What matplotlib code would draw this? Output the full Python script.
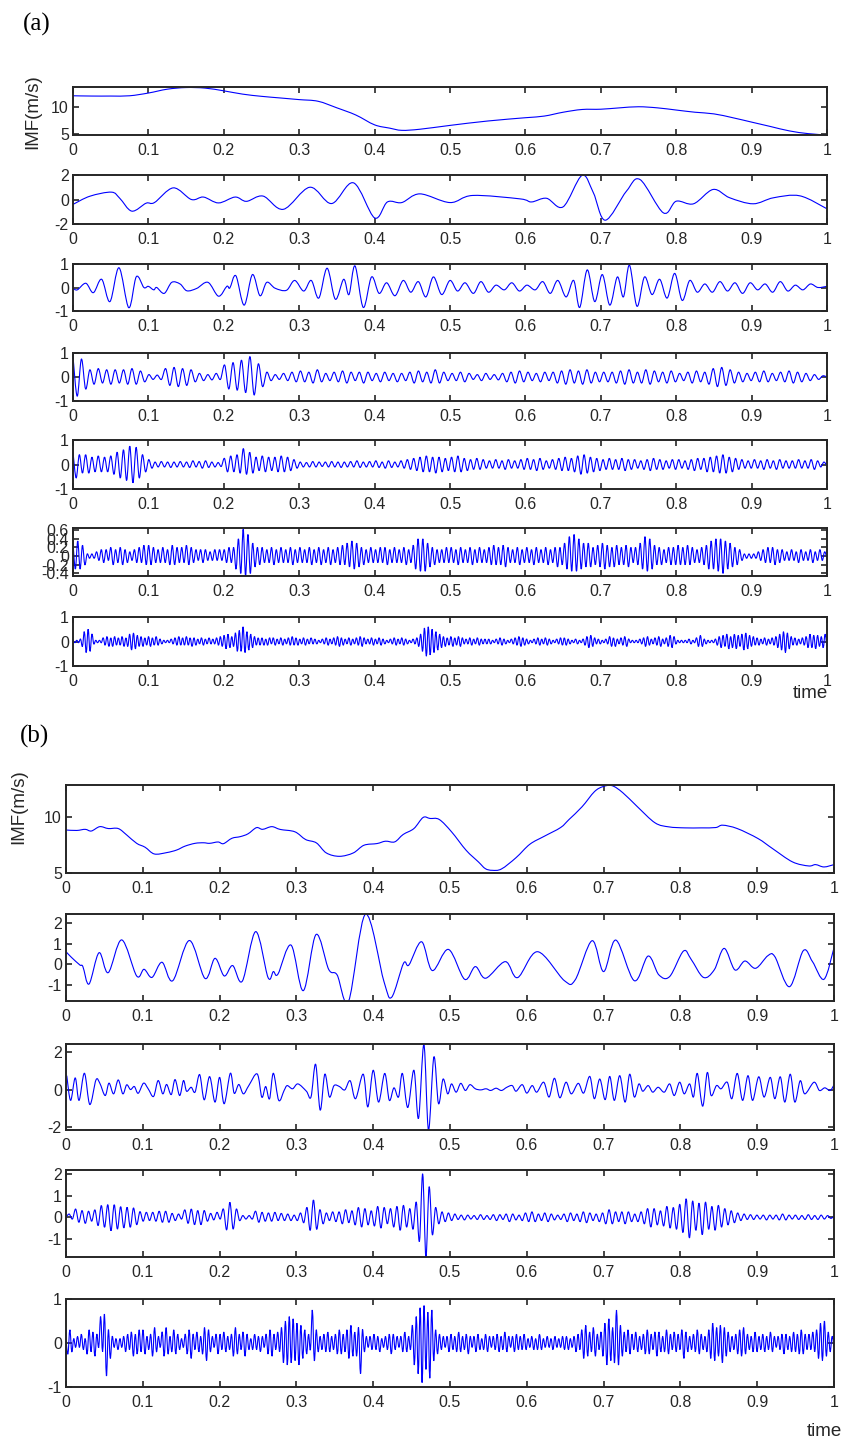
import numpy as np
import matplotlib
matplotlib.use("Agg")
import matplotlib.pyplot as plt
from matplotlib.path import Path
from matplotlib.patches import PathPatch

plt.rcParams['font.family'] = ['Liberation Sans', 'DejaVu Sans']

# ---------------- data (a) ----------------
A1_T = [0, 0.025, 0.05, 0.075, 0.1, 0.125, 0.15, 0.175, 0.2, 0.225, 0.25, 0.275, 0.3, 0.325, 0.35,
        0.375, 0.4, 0.42, 0.436, 0.46, 0.5, 0.55, 0.6, 0.625, 0.65, 0.675, 0.7, 0.725, 0.75, 0.775,
        0.8, 0.825, 0.85, 0.875, 0.9, 0.925, 0.95, 0.975, 1.0]
A1_V = [12.0, 11.95, 11.95, 12.0, 12.5, 13.2, 13.5, 13.4, 12.9, 12.3, 11.9, 11.6, 11.3, 11.0, 9.8,
        8.5, 6.7, 6.1, 5.7, 5.9, 6.6, 7.4, 8.0, 8.3, 9.0, 9.5, 9.55, 9.8, 10.0, 9.8,
        9.4, 9.0, 8.7, 8.0, 7.2, 6.4, 5.6, 5.1, 4.85]

A2_T = [0, 0.0225, 0.051, 0.062, 0.078, 0.097, 0.108, 0.133, 0.157, 0.173, 0.193, 0.215, 0.23, 0.252,
        0.279, 0.314, 0.343, 0.372, 0.4, 0.417, 0.436, 0.46, 0.5, 0.53, 0.593, 0.608, 0.628, 0.65,
        0.675, 0.69, 0.706, 0.734, 0.752, 0.783, 0.8, 0.823, 0.849, 0.871, 0.902, 0.929, 0.964, 1.0]
A2_V = [-0.4, 0.27, 0.6, 0.1, -0.95, -0.3, -0.25, 0.95, 0.0, 0.2, -0.28, 0.2, -0.15, 0.28,
        -0.8, 1.0, -0.33, 1.36, -1.5, -0.2, -0.25, 0.46, -0.25, 0.33, 0.05, -0.2, 0.1, -0.6,
        1.96, 0.57, -1.69, 0.68, 1.63, -1.09, -0.14, -0.35, 0.82, 0.14, -0.35, 0.14, 0.3, -0.76]

A3_T = [0, 0.0057, 0.017, 0.027, 0.038, 0.049, 0.061, 0.074, 0.084, 0.094, 0.0999, 0.107, 0.111,
        0.121, 0.131, 0.142, 0.151, 0.164, 0.179, 0.193, 0.204, 0.208, 0.216, 0.227, 0.238, 0.248,
        0.257, 0.268, 0.283, 0.294,
        0.306, 0.316, 0.326, 0.337, 0.348, 0.359, 0.366, 0.374, 0.385, 0.396, 0.406, 0.416, 0.427,
        0.438, 0.448, 0.458, 0.468, 0.478, 0.489, 0.5, 0.51, 0.52, 0.531, 0.541, 0.551, 0.561,
        0.572, 0.582, 0.592, 0.602, 0.613, 0.623, 0.633, 0.643, 0.654, 0.664, 0.672, 0.682,
        0.692, 0.702, 0.712, 0.722, 0.73, 0.738, 0.748, 0.758, 0.768, 0.778, 0.788, 0.798,
        0.808, 0.818, 0.828, 0.838, 0.848, 0.858, 0.868, 0.878, 0.888, 0.898, 0.908, 0.918,
        0.928, 0.938, 0.948, 0.958, 0.968, 0.978, 0.988, 1.0]
A3_V = [-0.03, -0.1, 0.18, -0.22, 0.35, -0.6, 0.84, -0.86, 0.46, 0.0, 0.05, -0.1, 0.0,
        -0.25, 0.22, 0.15, -0.14, -0.04, 0.22, -0.37, 0.05, -0.02, 0.5, -0.75, 0.55, -0.35,
        0.22, -0.03, -0.12, 0.3,
        -0.15, 0.3, -0.45, 0.82, -0.5, 0.35, -0.3, 0.92, -0.85, 0.45, -0.25, 0.2, -0.35,
        0.3, -0.2, 0.25, -0.4, 0.45, -0.3, 0.3, -0.15, 0.2, -0.25, 0.25, -0.2, 0.1,
        -0.1, 0.2, -0.15, 0.1, -0.1, 0.25, -0.25, 0.3, -0.4, 0.3, -0.85, 0.75,
        -0.6, 0.55, -0.75, 0.45, -0.4, 0.95, -0.8, 0.45, -0.3, 0.35, -0.45, 0.6,
        -0.55, 0.3, -0.2, 0.15, -0.2, 0.25, -0.15, 0.2, -0.25, 0.2, -0.1, 0.15,
        -0.2, 0.25, -0.15, 0.1, -0.1, 0.15, 0.0, 0.05]

# extrema (hundredths), evenly spread over 0..1
A4_V = [85, -80, 75, -50, 30, -30, 35, -25, 30,
        -30, 30, -25, 30, -30, 35, -30, 25, -20,
        10, -10, 8, -10, 35, -35, 40, -40, 35,
        -35, 30, -20, 15, -15, 10, -12, 15, -10,
        50, -50, 60, -55, 70, -65, 85, -75, 55,
        -40, 20, -15, 10, -10, 15, -15, 20, -20,
        25, -20, 20, -25, 30, -20, 15, -15, 20,
        -20, 25, -25, 20, -15, 20, -25, 20, -15,
        15, -20, 20, -15, 15, -20, 15, -15, 20,
        -25, 25, -20, 20, -25, 30, -25, 20, -15,
        15, -15, 20, -20, 15, -10, 10, -15, 15,
        -10, 10, -12, 15, -20, 20, -25, 25, -20,
        20, -15, 15, -20, 20, -15, 20, -25, 25,
        -30, 30, -25, 25, -30, 30, -25, 20, -20,
        20, -20, 20, -25, 25, -30, 30, -25, 20,
        -25, 30, -30, 25, -20, 20, -25, 25, -20,
        15, -15, 20, -25, 25, -20, 20, -30, 35,
        -40, 40, -35, 30, -25, 20, -20, 15, -15,
        20, -20, 25, -20, 15, -15, 20, -20, 25,
        -25, 20, -20, 15, -15, 10, -10, 5, 0]

A5_V = [50, -55, 40, -35, 40, -35, 30, -30, 35, -30, 30, -30,
        35, -40, 50, -55, 60, -65, 75, -75, 70, -55, 40, -30,
        20, -15, 10, -10, 12, -10, 10, -12, 10, -10, 12, -10,
        10, -12, 15, -10, 12, -15, 15, -12, 10, -10, 8, -8,
        25, -30, 35, -30, 40, -35, 65, -40, 50, -35, 30, -25,
        35, -30, 30, -25, 30, -30, 35, -30, 30, -25, 20, -15,
        10, -10, 8, -10, 12, -10, 10, -8, 10, -10, 12, -10,
        10, -12, 10, -10, 12, -10, 15, -12, 10, -10, 12, -10,
        15, -12, 10, -15, 15, -12, 10, -10, 15, -15, 20, -20,
        25, -25, 30, -30, 35, -30, 30, -35, 30, -30, 25, -25,
        30, -30, 35, -30, 25, -25, 20, -20, 25, -20, 20, -15,
        15, -15, 20, -15, 15, -20, 20, -15, 15, -15, 20, -20,
        25, -20, 20, -25, 25, -20, 15, -15, 20, -20, 25, -25,
        30, -25, 25, -30, 35, -40, 40, -35, 30, -30, 25, -25,
        20, -20, 25, -20, 20, -20, 25, -25, 20, -20, 20, -15,
        15, -20, 20, -25, 25, -20, 20, -20, 15, -15, 20, -20,
        20, -15, 15, -20, 20, -25, 25, -20, 25, -30, 30, -30,
        35, -35, 40, -35, 30, -30, 25, -20, 20, -15, 15, -15,
        20, -15, 15, -20, 20, -15, 15, -20, 20, -15, 15, -15,
        15, -15, 20, -15, 15, -15, 20, -20, 15, -10, 10, -5]

A6_V = [30, -30, 35, -30, 25, -20, 5, -5, 5, -5, 10, -10, 15, -15, 15, -10,
        20, -20, 15, -15, 20, -20, 15, -15, 10, -10, 15, -15, 20, -15, 25, -20,
        25, -20, 20, -15, 15, -15, 20, -15, 15, -20, 25, -20, 20, -15, 20, -15,
        25, -20, 20, -15, 15, -10, 15, -15, 15, -10, 10, -10, 15, -10, 15, -10,
        15, -15, 20, -15, 20, -30, 40, -40, 62, -45, 50, -40, 30, -25, 20, -20,
        20, -15, 15, -15, 20, -20, 15, -15, 20, -15, 15, -15, 20, -20, 15, -15,
        20, -15, 15, -15, 20, -20, 15, -15, 20, -20, 15, -15, 20, -20, 15, -15,
        20, -20, 25, -20, 30, -25, 35, -30, 30, -25, 20, -20, 15, -15, 20, -15,
        15, -15, 20, -15, 20, -20, 15, -15, 20, -15, 15, -15, 20, -20, 15, -15,
        25, -30, 40, -35, 40, -35, 30, -25, 20, -20, 15, -15, 15, -15, 20, -15,
        20, -15, 15, -20, 20, -15, 15, -15, 20, -20, 15, -15, 20, -15, 15, -15,
        20, -20, 25, -20, 20, -20, 25, -25, 20, -15, 15, -15, 20, -20, 15, -15,
        20, -15, 15, -20, 20, -15, 15, -15, 20, -20, 15, -15, 20, -25, 20, -20,
        30, -30, 45, -35, 50, -35, 40, -30, 30, -25, 30, -25, 20, -20, 25, -25,
        30, -30, 25, -25, 20, -25, 25, -20, 20, -20, 25, -25, 20, -15, 20, -20,
        30, -30, 45, -35, 40, -30, 25, -20, 20, -20, 15, -15, 20, -20, 20, -20,
        25, -20, 20, -20, 25, -20, 20, -15, 15, -15, 20, -20, 25, -30, 35, -30,
        40, -35, 40, -40, 35, -30, 30, -25, 20, -20, 15, -10, 5, -5, 5, -5,
        5, -5, 10, -10, 15, -15, 20, -15, 20, -20, 15, -15, 15, -10, 10, -10,
        15, -10, 10, -15, 15, -10, 10, -10, 15, -15, 10, -10, 15, -10, 10, -5]

A7_V = [5, -5, 5, -5, 10, -20, 40, -45, 50, -40, 30, -10, 5, -5, 5, -5, 15, -15, 20, -20,
        15, -20, 20, -15, 15, -15, 20, -20, 15, -20, 30, -35, 35, -30, 25, -20, 20, -20, 15, -15,
        20, -20, 15, -15, 20, -15, 10, -10, 5, -5, 5, -5, 10, -10, 15, -15, 20, -15, 15, -15,
        20, -15, 15, -20, 15, -15, 10, -10, 15, -15, 10, -10, 15, -10, 10, -10, 15, -15, 20, -20,
        25, -30, 30, -25, 20, -20, 35, -40, 45, -40, 60, -45, 40, -35, 30, -25, 20, -15, 15, -15,
        15, -15, 10, -15, 15, -10, 15, -15, 10, -10, 15, -15, 10, -10, 15, -15, 20, -15, 15, -15,
        10, -10, 15, -15, 10, -10, 15, -10, 10, -10, 5, -5, 10, -10, 15, -15, 10, -10, 15, -15,
        20, -20, 15, -15, 10, -10, 15, -15, 10, -10, 15, -15, 20, -20, 15, -10, 10, -10, 15, -15,
        10, -10, 15, -15, 10, -10, 5, -5, 10, -10, 15, -15, 10, -10, 15, -15, 10, -10, 5, -5,
        10, -10, 15, -20, 30, -40, 55, -60, 60, -55, 50, -45, 40, -35, 30, -25, 20, -20, 15, -15,
        20, -20, 15, -15, 20, -20, 15, -10, 10, -10, 15, -15, 10, -10, 15, -15, 10, -10, 10, -10,
        10, -10, 5, -5, 10, -10, 15, -15, 10, -10, 5, -5, 10, -10, 15, -15, 20, -20, 15, -15,
        10, -10, 5, -5, 10, -10, 15, -15, 10, -10, 15, -15, 10, -10, 5, -5, 10, -10, 15, -15,
        15, -15, 10, -10, 5, -5, 10, -10, 5, -5, 10, -15, 20, -25, 25, -20, 15, -10, 10, -10,
        5, -5, 10, -10, 20, -20, 15, -20, 10, -10, 15, -15, 20, -20, 10, -5, 5, -5, 5, -5,
        10, -10, 15, -20, 20, -15, 10, -10, 15, -15, 20, -20, 10, -10, 15, -20, 25, -25, 20, -10,
        5, -5, 5, -5, 5, -5, 10, -10, 5, -5, 15, -20, 25, -20, 10, -10, 5, -5, 5, -5,
        10, -15, 20, -25, 25, -20, 30, -30, 20, -25, 30, -30, 25, -20, 30, -35, 35, -30, 25, -20,
        20, -15, 15, -15, 10, -10, 15, -15, 10, -10, 15, -15, 20, -25, 30, -35, 40, -45, 35, -30,
        20, -15, 15, -15, 10, -10, 15, -15, 20, -25, 30, -25, 25, -30, 25, -20, 20, -25, 30, -25]

# ---------------- data (b) ----------------
B1_T = [0, 0.014, 0.025, 0.033, 0.044, 0.055, 0.068, 0.079, 0.092, 0.103, 0.115, 0.131, 0.144, 0.155,
        0.168, 0.179, 0.187, 0.198, 0.205, 0.216, 0.227, 0.237, 0.248, 0.256, 0.268, 0.279,
        0.298, 0.312, 0.326, 0.339, 0.356, 0.374, 0.388, 0.405, 0.416, 0.428, 0.439, 0.453, 0.465,
        0.474, 0.486, 0.502, 0.521, 0.537, 0.546, 0.555, 0.567, 0.586, 0.604, 0.623, 0.644, 0.655,
        0.672, 0.688, 0.699, 0.711, 0.725, 0.744, 0.767, 0.785, 0.806, 0.827, 0.846, 0.855, 0.874,
        0.901, 0.92, 0.946, 0.967, 0.976, 0.987, 1.0]
B1_V = [8.84, 8.8, 8.9, 8.75, 9.14, 8.97, 8.97, 8.4, 7.65, 7.3, 6.7, 6.82, 7.05, 7.4,
        7.65, 7.7, 7.65, 7.77, 7.62, 8.1, 8.25, 8.5, 9.05, 8.9, 9.14, 8.89,
        8.68, 7.99, 7.69, 6.79, 6.49, 6.79, 7.48, 7.63, 7.84, 7.78, 8.44, 8.97, 9.96,
        9.87, 9.78, 8.68, 7.03, 5.99, 5.39, 5.24, 5.36, 6.37, 7.57, 8.29, 9.06, 9.78,
        10.92, 12.26, 12.71, 12.8, 12.17, 10.92, 9.48, 9.12, 9.03, 9.03, 9.06, 9.27, 8.97,
        8.08, 7.18, 5.99, 5.63, 5.75, 5.54, 5.75]

B2_T = [0, 0.007, 0.018, 0.022, 0.030, 0.043, 0.055, 0.0725, 0.092, 0.1016, 0.112, 0.125, 0.139,
        0.1606, 0.181, 0.194, 0.206, 0.217, 0.2296, 0.247, 0.263, 0.27, 0.276,
        0.293, 0.309, 0.3256, 0.342, 0.353, 0.368, 0.39, 0.414, 0.424, 0.4395, 0.4465, 0.463,
        0.477, 0.498, 0.519, 0.533, 0.5465, 0.572, 0.588, 0.614, 0.649, 0.663, 0.685, 0.7,
        0.716, 0.74, 0.758, 0.772, 0.786, 0.804, 0.814, 0.83, 0.844, 0.857, 0.871, 0.884,
        0.898, 0.914, 0.923, 0.942, 0.96, 0.972, 0.987, 1.0]
B2_V = [0.61, 0.34, -0.03, -0.11, -0.95, 0.56, -0.4, 1.18, -0.56, -0.24, -0.63, 0.1, -0.79,
        1.15, -0.68, 0.29, -0.56, -0.06, -0.81, 1.58, -0.63, -0.35, -0.47,
        0.93, -1.27, 1.44, -0.24, -0.51, -1.77, 2.42, -0.83, -1.59, 0.05, -0.03, 1.09,
        -0.3, 0.72, -0.72, -0.11, -0.67, 0.13, -0.64, 0.61, -0.79, -0.75, 1.14, -0.35,
        1.17, -0.79, 0.4, -0.51, -0.59, 0.64, 0.24, -0.63, -0.27, 0.77, -0.27, 0.16,
        -0.19, 0.42, 0.37, -1.08, 0.66, 0.13, -0.72, 0.8]

B3_T = [0.001, 0.006, 0.012, 0.017, 0.024, 0.031, 0.039, 0.044, 0.051, 0.056, 0.062, 0.068, 0.074,
        0.079, 0.084, 0.089, 0.094, 0.101, 0.107, 0.114, 0.12, 0.126, 0.131, 0.137, 0.142, 0.148,
        0.153, 0.157, 0.163, 0.168, 0.174, 0.18, 0.187, 0.194, 0.2, 0.206, 0.214, 0.219, 0.225,
        0.231, 0.238, 0.249, 0.255, 0.26, 0.265, 0.27, 0.277,
        0.284, 0.288, 0.295, 0.302, 0.313, 0.319, 0.325, 0.331, 0.337, 0.343,
        0.349, 0.356, 0.363, 0.37, 0.377, 0.387, 0.393, 0.4, 0.407, 0.415,
        0.421, 0.427, 0.433, 0.438, 0.445, 0.453, 0.459, 0.466, 0.472, 0.479,
        0.485, 0.491, 0.497, 0.502, 0.508, 0.514, 0.52, 0.526, 0.533, 0.54,
        0.547, 0.553, 0.56, 0.567, 0.574, 0.581, 0.586, 0.594, 0.6, 0.607,
        0.613, 0.622, 0.629, 0.636, 0.643, 0.651, 0.658, 0.667, 0.674, 0.682,
        0.688, 0.695, 0.702, 0.708, 0.714, 0.721, 0.728, 0.734, 0.74, 0.746,
        0.751, 0.758, 0.764, 0.771, 0.779, 0.786, 0.792, 0.799, 0.805, 0.812,
        0.817, 0.822, 0.829, 0.835, 0.84, 0.847, 0.853, 0.861, 0.867, 0.874,
        0.881, 0.888, 0.894, 0.902, 0.909, 0.917, 0.923, 0.93, 0.936, 0.943,
        0.949, 0.956, 0.962, 0.974, 0.981, 0.988, 0.995, 1.0]
B3_V = [0.74, -0.58, 0.62, -0.58, 0.87, -0.8, 0.51, 0.34, -0.32, 0.34, -0.23, 0.51, -0.23,
        0.25, 0.0, 0.16, -0.2, 0.34, 0.04, -0.37, 0.48, -0.23, 0.27, -0.27, 0.53, -0.32,
        0.48, -0.09, 0.12, -0.14, 0.8, -0.55, 0.69, -0.67, 0.65, -0.76, 0.87, -0.2, 0.27,
        -0.23, 0.21, 0.83, -0.41, 0.16, -0.5, 0.87, -0.58,
        -0.05, 0.21, 0.04, 0.3, -0.09, -0.4, 1.35, -1.1, 0.82, -0.4,
        0.21, 0.16, -0.02, 0.47, -0.49, 0.82, -0.93, 1.03, -0.67, 0.86,
        -0.58, 0.09, -0.4, 0.86, -0.96, 1.03, -1.54, 2.4, -2.16, 1.74,
        -0.75, 0.56, -0.23, 0.3, -0.14, 0.33, -0.05, 0.26, 0.04, -0.02,
        0.04, -0.05, 0.07, -0.05, 0.12, 0.21, -0.09, 0.26, -0.19, 0.21,
        -0.14, 0.39, -0.4, 0.6, -0.44, 0.39, -0.23, 0.33, -0.19, 0.7,
        -0.49, 0.56, -0.54, 0.7, -0.58, 0.74, -0.67, 0.82, -0.4, 0.3,
        -0.09, 0.21, -0.14, 0.12, -0.14, 0.3, -0.32, 0.39, -0.23, 0.3,
        -0.4, 0.86, -0.89, 0.91, -0.32, 0.21, 0.04, 0.39, -0.49, 0.86,
        -0.58, 0.74, -0.58, 0.68, -0.4, 0.65, -0.49, 0.68, -0.67, 0.82,
        -0.67, 0.47, -0.23, 0.39, -0.05, 0.09, -0.05, 0.25]

B4_V = [0, 15, -8, 38, -23, 31, -28, 28, -18, 34, -38, 54, -46, 58, -62, 58, -54, 49, -49, 46,
        -46, 43, -34, 26, -18, 23, -15, 23, -18, 28, -23, 28, -23, 18, -15, 15, -8, 34, -28, 38,
        -34, 31, -34, 31, -18, 18, -12, 23, -8, 38, -58, 69, -54, 38, -15, 8, -8, 8, -8, 28,
        -23, 23, -18, 20, -18, 23, -15, 18, -15, 15, -15, 10,
        -15, 20, -25, 45, -60, 80, -55, 35, -30, 20, -15, 25,
        -20, 25, -30, 35, -25, 30, -35, 45, -45, 40, -35, 30,
        -40, 50, -50, 45, -30, 40, -45, 50, -60, 55, -45, 40,
        -55, 70, -110, 200, -183, 140, -80, 45, -30, 25, -20, 20,
        -15, 15, -10, 10, -12, 10, -8, 8, -10, 12, -10, 8,
        -10, 12, -15, 12, -10, 15, -20, 15, -12, 10, -15, 20,
        -20, 25, -20, 15, -15, 20, -20, 15, -12, 10, -10, 15,
        -20, 20, -15, 15, -20, 25, -25, 20, -15, 15, -20, 20,
        -30, 35, -30, 25, -20, 25, -30, 25, -20, 15, -20, 25,
        -30, 40, -45, 40, -35, 30, -40, 50, -50, 45, -55, 60,
        -70, 85, -95, 75, -60, 65, -80, 70, -55, 50, -60, 55,
        -45, 40, -35, 30, -25, 20, -15, 15, -10, 12, -10, 10,
        -8, 10, -12, 10, -8, 10, -12, 15, -12, 10, -8, 10,
        -10, 8, -10, 12, -10, 8, -10, 10, -8, 8, -5, 5]

B5_V = [5, -25, 30, -20, 10, -10, 15, -10, 20, -15, 10, -25, 30, -20, 25, -30, 20, -10, 60, -20,
        65, -75, 30, -35, 15, -10, 10, -15, 10, -10, 15, -20, 20, -15, 25, -30, 20, -25, 30, -20,
        30, -25, 15, -15, 20, -30, 35, -20, 15, -10, 25, -30, 35, -25, 15, -20, 30, -25, 20, -15,
        10, -10, 20, -25, 30, -35, 20, -15, 25, -20, 15, -25, 35, -40, 30, -20, 15, -10, 20, -25,
        20, -15, 25, -20, 15, -15, 20, -30, 35, -25, 20, -15, 25, -30, 20, -15, 10, -15, 20, -15,
        15, -20, 15, -10, 20, -25, 30, -30, 20, -15, 25, -20, 35, -45, 50, -50, 60, -45, 55, -40,
        45, -50, 40, -35, 30, -25, 20, -15, 75, -40, 30, -20, 15, -15, 20, -20, 25, -20, 15, -15,
        20, -25, 30, -25, 20, -20, 30, -35, 40, -30, 25, -30, 35, -70, 30, -20, 15, -10, 15, -15,
        20, -15, 15, -20, 10, -10, 15, -15, 20, -25, 20, -15, 15, -10, 15, -20, 25, -20, 15, -15,
        40, -50, 60, -70, 80, -90, 85, -60, 70, -80, 75, -40, 30, -25, 20, -15, 15, -10, 15, -20,
        20, -15, 15, -20, 25, -20, 15, -15, 20, -25, 15, -10, 15, -20, 20, -15, 10, -15, 20, -20,
        15, -10, 15, -15, 20, -20, 15, -15, 25, -20, 15, -10, 15, -20, 20, -15, 15, -15, 20, -15,
        10, -10, 15, -15, 10, -15, 20, -15, 10, -10, 15, -10, 10, -15, 15, -10, 10, -10, 15, -15,
        15, -15, 10, -10, 15, -20, 20, -15, 30, -35, 40, -30, 25, -20, 35, -30, 20, -15, 25, -30,
        45, -50, 55, -40, 35, -45, 75, -50, 40, -30, 25, -20, 30, -25, 20, -15, 25, -20, 15, -15,
        20, -25, 30, -25, 20, -15, 25, -30, 25, -20, 15, -20, 30, -25, 20, -15, 25, -20, 20, -15,
        30, -35, 25, -20, 15, -15, 20, -20, 30, -25, 20, -15, 15, -20, 30, -35, 45, -40, 35, -30,
        40, -45, 35, -30, 25, -20, 15, -15, 20, -25, 30, -30, 35, -25, 20, -15, 15, -20, 25, -20,
        15, -15, 20, -20, 15, -15, 25, -20, 15, -10, 15, -15, 20, -25, 20, -15, 15, -20, 25, -20,
        20, -25, 30, -25, 20, -15, 20, -15, 25, -20, 30, -35, 45, -40, 50, -30, 25, -20, 15, -10]

X_TICKS = [0, 0.1, 0.2, 0.3, 0.4, 0.5, 0.6, 0.7, 0.8, 0.9, 1.0]
X_LABELS = ['0', '0.1', '0.2', '0.3', '0.4', '0.5', '0.6', '0.7', '0.8', '0.9', '1']


def uniform(vals):
    v = np.asarray(vals, dtype=float) / 100.0
    return np.linspace(0, 1, len(v)), v


def smooth_path(t, v):
    """Bezier path passing through every data point (Catmull-Rom style tangents)."""
    P = np.column_stack([np.asarray(t, float), np.asarray(v, float)])
    n = len(P)
    verts = [P[0]]
    codes = [Path.MOVETO]
    for i in range(n - 1):
        p0 = P[i - 1] if i > 0 else P[i]
        p1 = P[i]
        p2 = P[i + 1]
        p3 = P[i + 2] if i + 2 < n else P[i + 1]
        c1 = p1 + (p2 - p0) / 6.0
        c2 = p2 - (p3 - p1) / 6.0
        verts += [c1, c2, p2]
        codes += [Path.CURVE4] * 3
    return Path(np.array(verts), codes)


# ---------------- figure ----------------
W, H = 843, 1442
fig = plt.figure(figsize=(W / 100, H / 100), dpi=100)
TXT = '#262626'


def add_ax(left, top, right, bottom):
    return fig.add_axes([left / W, 1 - bottom / H, (right - left) / W, (bottom - top) / H])


def style(ax, ylim, yticks, ylabels):
    ax.set_xlim(0, 1)
    ax.set_ylim(*ylim)
    ax.set_xticks(X_TICKS)
    ax.set_xticklabels(X_LABELS)
    ax.set_yticks(yticks)
    ax.set_yticklabels(ylabels)
    ax.tick_params(axis='both', which='both', direction='in', top=True, right=True,
                   length=4.5, width=1.2, colors=TXT, labelsize=11.5, labelcolor=TXT)
    ax.tick_params(axis='x', pad=6)
    ax.tick_params(axis='y', pad=3)
    for s in ax.spines.values():
        s.set_linewidth(1.4)
        s.set_color(TXT)
        s.set_zorder(3)


def draw(ax, t, v):
    ax.add_patch(PathPatch(smooth_path(t, v), facecolor='none', edgecolor='#0000FF',
                           lw=0.8, zorder=2))


# (a)
a_rows = [(87, 135), (175, 224), (264, 311), (353, 401), (440, 489), (528, 576), (617, 666)]
a_series = [
    (A1_T, A1_V),
    (A2_T, A2_V),
    (A3_T, A3_V),
    uniform(A4_V),
    uniform(A5_V),
    uniform(A6_V),
    uniform(A7_V),
]
a_ylims = [(4.85, 13.6), (-2, 2), (-1, 1), (-1, 1), (-1, 1), (-0.46, 0.65), (-1, 1)]
a_yt = [([5, 10], ['5', '10']), ([-2, 0, 2], ['-2', '0', '2']), ([-1, 0, 1], ['-1', '0', '1']),
        ([-1, 0, 1], ['-1', '0', '1']), ([-1, 0, 1], ['-1', '0', '1']),
        ([-0.4, -0.2, 0, 0.2, 0.4, 0.6], ['-0.4', '-0.2', '0', '0.2', '0.4', '0.6']),
        ([-1, 0, 1], ['-1', '0', '1'])]
for (top, bot), (t, v), yl, (yt, ytl) in zip(a_rows, a_series, a_ylims, a_yt):
    ax = add_ax(73, top, 827, bot)
    draw(ax, t, v)
    style(ax, yl, yt, ytl)

# (b)
b_rows = [(785, 873), (914, 1001), (1044, 1130), (1170, 1257), (1299, 1387)]
b_series = [
    (B1_T, B1_V),
    (B2_T, B2_V),
    (B3_T, B3_V),
    uniform(B4_V),
    uniform(B5_V),
]
b_ylims = [(5, 12.86), (-1.77, 2.43), (-2.16, 2.43), (-1.83, 2.18), (-1, 1)]
b_yt = [([5, 10], ['5', '10']), ([-1, 0, 1, 2], ['-1', '0', '1', '2']),
        ([-2, 0, 2], ['-2', '0', '2']), ([-1, 0, 1, 2], ['-1', '0', '1', '2']),
        ([-1, 0, 1], ['-1', '0', '1'])]
for (top, bot), (t, v), yl, (yt, ytl) in zip(b_rows, b_series, b_ylims, b_yt):
    ax = add_ax(66, top, 834, bot)
    draw(ax, t, v)
    style(ax, yl, yt, ytl)

# labels
fig.text(23 / W, 1 - 24 / H, '(a)', family='Liberation Serif', fontsize=18, ha='left', va='center', color='black')
fig.text(20 / W, 1 - 736 / H, '(b)', family='Liberation Serif', fontsize=18, ha='left', va='center', color='black')
fig.text(33 / W, 1 - 112 / H, 'IMF(m/s)', rotation=90, fontsize=13.5, ha='center', va='center', color=TXT)
fig.text(19 / W, 1 - 807 / H, 'IMF(m/s)', rotation=90, fontsize=13.5, ha='center', va='center', color=TXT)
fig.text(828 / W, 1 - 694 / H, 'time', fontsize=13.5, ha='right', va='center', color=TXT)
fig.text(842 / W, 1 - 1431 / H, 'time', fontsize=13.5, ha='right', va='center', color=TXT)

fig.savefig('out.png', dpi=100, facecolor='white')
